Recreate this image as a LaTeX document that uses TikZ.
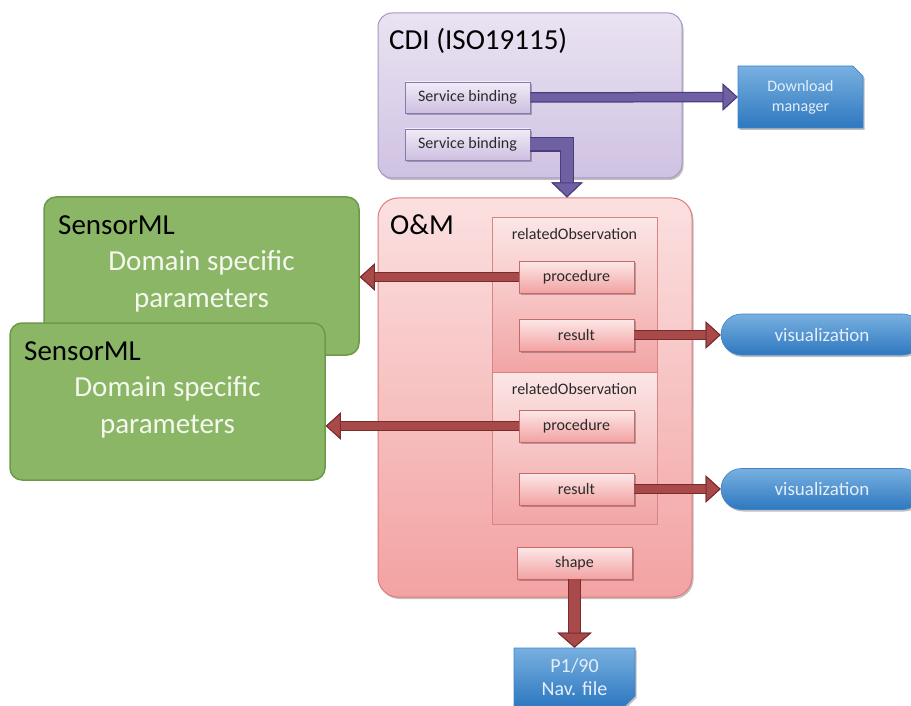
\documentclass[tikz,border=0pt]{standalone}
\usepackage{fontspec}
\setmainfont{Carlito}
\usetikzlibrary{arrows.meta,shadows,shapes.misc}
\definecolor{cdiTop}{HTML}{EAE3F2}
\definecolor{cdiBot}{HTML}{CFC2E2}
\definecolor{cdiLine}{HTML}{A797C6}
\definecolor{sbTop}{HTML}{F1ECF7}
\definecolor{sbBot}{HTML}{CDBFE0}
\definecolor{sbLine}{HTML}{8A78B2}
\definecolor{purFill}{HTML}{6F5FA3}
\definecolor{purDark}{HTML}{4A3D7E}
\definecolor{blueTop}{HTML}{78B0E0}
\definecolor{blueBot}{HTML}{2E78C0}
\definecolor{blueLine}{HTML}{3F84C8}
\definecolor{blueText}{HTML}{E4EEF9}
\definecolor{omTop}{HTML}{FBE0E0}
\definecolor{omBot}{HTML}{F3A2A2}
\definecolor{omLine}{HTML}{E07C7C}
\definecolor{roTop}{HTML}{FCE6E6}
\definecolor{roBot}{HTML}{F2A4A4}
\definecolor{roLine}{HTML}{D78686}
\definecolor{pbTop}{HTML}{FDE8E8}
\definecolor{pbBot}{HTML}{F2A2A2}
\definecolor{pbLine}{HTML}{C56A6A}
\definecolor{redFill}{HTML}{A94A4A}
\definecolor{redDark}{HTML}{7A2C2C}
\definecolor{grnFill}{HTML}{8BB665}
\definecolor{grnLine}{HTML}{6D994B}
\definecolor{grnText}{HTML}{F4F8EF}
\definecolor{txt}{HTML}{2A2A2A}
\begin{document}
\begin{tikzpicture}[x=1pt,y=-1pt,
  bigfont/.style={font=\fontsize{29}{36}\selectfont},
  smallfont/.style={font=\fontsize{16}{19}\selectfont},
  softshadow/.style={drop shadow={shadow xshift=1.5pt,shadow yshift=-2pt,fill=black,opacity=0.25}},
  container/.style={rounded corners=14pt, line width=1pt, inner sep=0pt},
  cdibox/.style={container, draw=cdiLine, top color=cdiTop, bottom color=cdiBot, softshadow},
  ombox/.style={container, rounded corners=20pt, draw=omLine, top color=omTop, bottom color=omBot, softshadow},
  grnbox/.style={container, rounded corners=12pt, draw=grnLine, line width=1.5pt, fill=grnFill},
  robox/.style={draw=roLine, line width=1pt, top color=roTop, bottom color=roBot, inner sep=0pt, minimum width=165pt},
  sbbox/.style={draw=sbLine, line width=0.8pt, top color=sbTop, bottom color=sbBot, inner sep=0pt,
     minimum width=125pt, minimum height=31pt, smallfont, text=txt, softshadow},
  pbox/.style={draw=pbLine, line width=0.8pt, top color=pbTop, bottom color=pbBot, inner sep=0pt,
     minimum width=115pt, minimum height=32pt, smallfont, text=txt, softshadow},
  bluedoc/.style={chamfered rectangle, draw=blueLine, line width=0.6pt, top color=blueTop, bottom color=blueBot,
     inner sep=0pt, text=blueText, align=center, softshadow},
  bluepill/.style={rounded rectangle, draw=blueLine, line width=0.6pt, top color=blueTop, bottom color=blueBot,
     inner sep=0pt, minimum width=202pt, minimum height=41pt, text=blueText,
     font=\fontsize{19}{22}\selectfont, softshadow},
  titletext/.style={bigfont, text=black, anchor=base west, inner sep=0pt},
  grntext/.style={bigfont, text=grnText, anchor=base, inner sep=0pt},
  rotext/.style={smallfont, text=txt, anchor=base, inner sep=0pt},
  redarrow/.style={draw=redFill, line width=8pt,
     -{Triangle[length=15pt,width=27pt,line width=1pt,color=redDark,fill=redFill]},
     preaction={draw=redDark, line width=10.5pt,
     -{Triangle[length=15pt,width=27pt,line width=1pt,color=redDark,fill=redFill]}}},
  purarrow/.style={draw=purFill, line width=8pt,
     -{Triangle[length=15pt,width=27pt,line width=1pt,color=purDark,fill=purFill]},
     preaction={draw=purDark, line width=10.5pt,
     -{Triangle[length=15pt,width=27pt,line width=1pt,color=purDark,fill=purFill]}}},
  purbend/.style={draw=purFill, line width=12pt,
     -{Triangle[length=15pt,width=31pt,line width=1pt,color=purDark,fill=purFill]},
     preaction={draw=purDark, line width=14.5pt,
     -{Triangle[length=15pt,width=31pt,line width=1pt,color=purDark,fill=purFill]}}},
  redfat/.style={draw=redFill, line width=11pt,
     -{Triangle[length=15pt,width=34pt,line width=1pt,color=redDark,fill=redFill]},
     preaction={draw=redDark, line width=13.5pt,
     -{Triangle[length=15pt,width=34pt,line width=1pt,color=redDark,fill=redFill]}}}
]
\useasboundingbox (0,0) rectangle (911,706);
\clip (0,0) rectangle (911,706);
\fill[white] (0,0) rectangle (911,706);

% CDI
\node[cdibox, minimum width=304pt, minimum height=165pt] (cdi) at (530,95.5) {};
\node[titletext] (cdit) at (389,50) {CDI (ISO19115)};
\node[sbbox] (sb1) at (467.5,97.5) {Service binding};
\node[sbbox] (sb2) at (467.5,144.5) {Service binding};
\node[bluedoc, chamfered rectangle corners=north east, chamfered rectangle xsep=7pt,
      minimum width=125pt, minimum height=62pt, font=\fontsize{16}{20}\selectfont]
      (dm) at (800.5,97) {Download\\manager};

% SensorML boxes
\node[grnbox, minimum width=315pt, minimum height=158pt] (sml1) at (201.5,276) {};
\node[titletext] (sml1t) at (58,234) {SensorML};
\node[grntext] (sml1a) at (201.5,270) {Domain specific};
\node[grntext] (sml1b) at (201.5,307) {parameters};
\node[grnbox, minimum width=315pt, minimum height=157pt] (sml2) at (167.5,401.5) {};
\node[titletext] (sml2t) at (24,360) {SensorML};
\node[grntext] (sml2a) at (167.5,396) {Domain specific};
\node[grntext] (sml2b) at (167.5,433) {parameters};

% O&M
\node[ombox, minimum width=314pt, minimum height=399pt] (om) at (535,397.5) {};
\node[titletext] (omt) at (390,234) {O\&M};
\node[robox, minimum height=154pt] (ro1) at (574.5,295) {};
\node[rotext] (ro1t) at (574.5,240) {relatedObservation};
\node[robox, minimum height=152pt] (ro2) at (574.5,448) {};
\node[rotext] (ro2t) at (574.5,394) {relatedObservation};
\node[pbox] (proc1) at (576.5,277) {procedure};
\node[pbox] (res1) at (576.5,335) {result};
\node[pbox] (proc2) at (576.5,426) {procedure};
\node[pbox] (res2) at (576.5,489) {result};
\node[pbox] (shp) at (574.5,563) {shape};

% outputs
\node[bluepill] (vis1) at (822,334.5) {visualization};
\node[bluepill] (vis2) at (822,489) {visualization};
\node[bluedoc, chamfered rectangle corners=south east, chamfered rectangle xsep=7pt,
      minimum width=121pt, minimum height=58pt, font=\fontsize{20}{23}\selectfont]
      (nav) at (574.5,677) {P1/90\\Nav. file};

% connectors
\draw[purarrow] (sb1.east) -- (dm.west);
\draw[purbend] (sb2.east) -| ([xshift=32pt]om.north);
\draw[redarrow] (proc1.west) -- (proc1.west -| sml1.east);
\draw[redarrow] (proc2.west) -- (proc2.west -| sml2.east);
\draw[redarrow] (res1.east) -- (res1.east -| vis1.west);
\draw[redarrow] (res2.east) -- (res2.east -| vis2.west);
\draw[redfat] (shp.south) -- (nav.north);
\end{tikzpicture}
\end{document}
